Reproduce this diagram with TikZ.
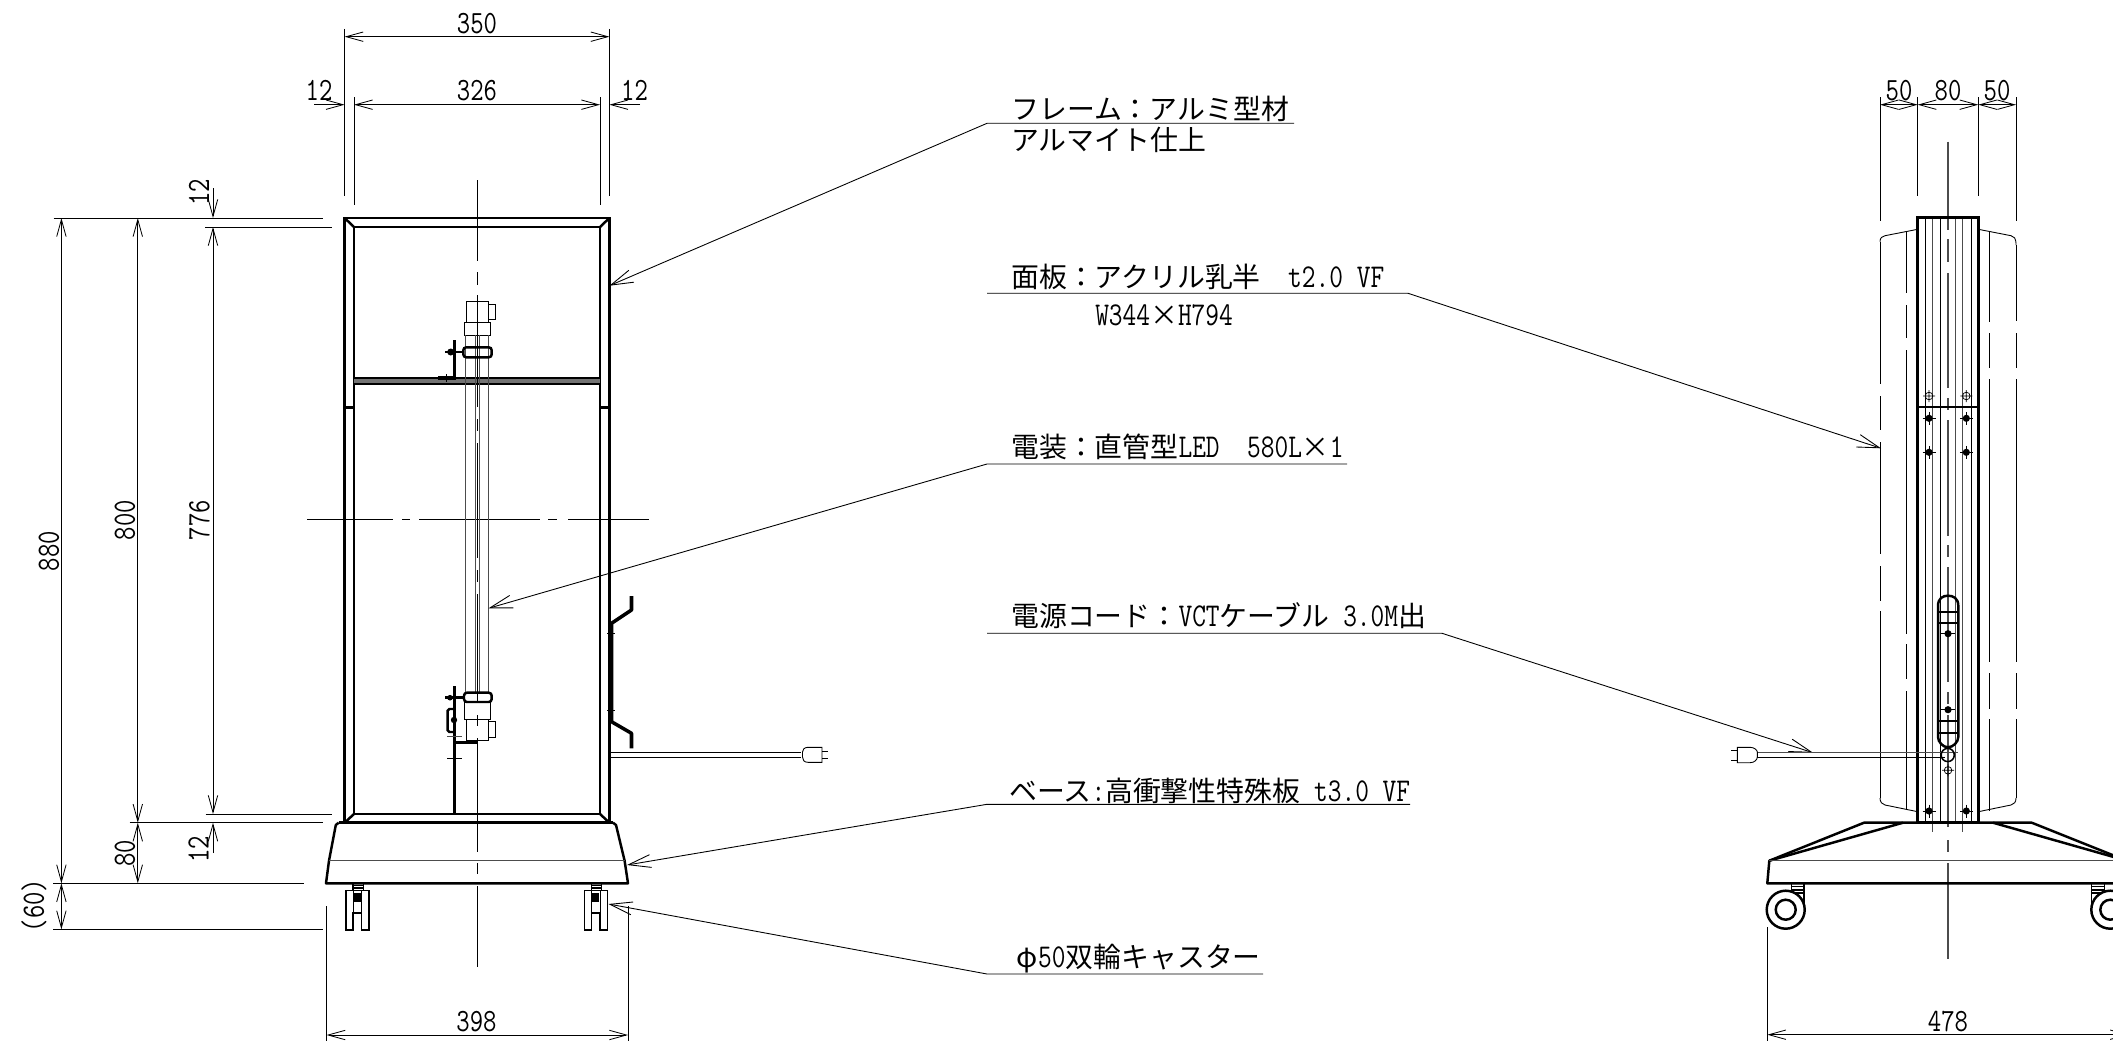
\documentclass[tikz,border=0pt]{standalone}
\usepackage{fontspec}
\usetikzlibrary{arrows.meta}
\newfontfamily\jpfont{Noto Sans CJK JP}
\newfontfamily\latfont[FakeStretch=0.8]{Latin Modern Mono}
\newcommand\hw[1]{{\latfont\fontsize{28.3pt}{28.3pt}\selectfont #1}}
\newcommand\zc{\char"FF1A\relax}
\tikzset{
  thin line/.style={line width=.75pt},
  hair line/.style={line width=.6pt,black!70},
  heavy/.style={line width=2.1pt},
  extra heavy/.style={line width=3pt},
  dimline/.style={line width=.7pt,>={Straight Barb[length=14.5pt,width=8pt]}},
  leader/.style={line width=.75pt,>={Straight Barb[length=19pt,width=11pt]}},
  dimtext/.style={inner sep=0pt,font=\latfont\fontsize{27.6pt}{27.6pt}\selectfont},
  note/.style={inner sep=0pt,anchor=base west,font=\jpfont\fontsize{23.7pt}{23.7pt}\selectfont},
}
\newcommand\boltopen[2]{\draw[line width=.6pt] (#1,#2) circle (3.8) (#1-6,#2) -- (#1+6,#2) (#1,#2-6) -- (#1,#2+6);}
\newcommand\boltfull[2]{\fill (#1,#2) circle (3.6); \draw[line width=.8pt] (#1-6.5,#2) -- (#1+6.5,#2) (#1,#2-6.5) -- (#1,#2+6.5);}
\newcommand\boltslot[2]{\fill (#1,#2) circle (3.6); \draw[line width=.8pt] (#1-7,#2) -- (#1+7,#2);}
\begin{document}
\begin{tikzpicture}[x=0.85pt,y=-0.85pt]
\useasboundingbox (0,0) rectangle (2113,1041);
\clip (0,0) rectangle (2113,1041);

% ===== LEFT VIEW : dimensions =====
\begin{scope}[dimline]
  \draw (344.6,29) -- (344.6,195.7) (609.4,29) -- (609.4,195.7);
  \draw (354,97) -- (354,204.7) (600,97) -- (600,204.7);
  \draw[<->] (344.6,36.7) -- (609.4,36.7);
  \draw[<->] (354,104.7) -- (600,104.7);
  \draw[->] (314,104.7) -- (344.6,104.7);
  \draw[->] (640,104.7) -- (609.4,104.7);
  \draw (53.6,218) -- (322.8,218) (205,227) -- (332,227);
  \draw (205.5,814) -- (331.8,814) (129.7,822.7) -- (323,822.7);
  \draw (53.4,883.3) -- (304,883.3) (53.4,929.3) -- (323,929.3);
  \draw[<->] (61.4,218) -- (61.4,883.3);
  \draw[<->] (61.4,883.3) -- (61.4,929.3);
  \draw[<->] (137.8,218) -- (137.8,822.7);
  \draw[<->] (137.8,822.7) -- (137.8,883.3);
  \draw[<->] (213,227) -- (213,814);
  \draw[->] (213,188) -- (213,218);
  \draw[->] (213,853) -- (213,822.7);
  \draw (326.6,906) -- (326.6,1041) (628,906) -- (628,1041);
  \draw[<->] (326.6,1035) -- (628,1035);
\end{scope}
\node[dimtext] (d350) at (477,23.5) {350};
\node[dimtext] (d326) at (477,91) {326};
\node[dimtext] (d12a) at (319,90) {12};
\node[dimtext] (d12b) at (634.5,90) {12};
\node[dimtext,rotate=90] (d12c) at (199,192) {12};
\node[dimtext,rotate=90] (d880) at (49,551) {880};
\node[dimtext,rotate=90] (d800) at (125,520) {800};
\node[dimtext,rotate=90] (d776) at (199.5,520) {776};
\node[dimtext,rotate=90] (d80) at (125,853) {80};
\node[dimtext,rotate=90] (d12d) at (198.5,849) {12};
\node[dimtext,rotate=90] (d60) at (34,905.5) {(60)};
\node[dimtext] (d398) at (476.5,1022) {398};

% ===== LEFT VIEW : frame =====
\draw[heavy] (344.6,218) rectangle (609.4,822.7);
\draw[heavy] (354,227) rectangle (600,814);
\draw[heavy] (344.6,218) -- (354,227) (609.4,218) -- (600,227) (344.6,822.7) -- (354,814) (609.4,822.7) -- (600,814);
\fill[black!55] (354,377.3) rectangle (600,384.3);
\draw[line width=1.7pt] (354,377.6) -- (600,377.6) (354,384) -- (600,384);
\draw[heavy] (344.6,407.3) -- (354,407.3) (600,407.3) -- (609.4,407.3);

% centre lines
\draw[thin line] (477.2,180) -- (477.2,261) (477.2,272) -- (477.2,285);
\draw[thin line] (477.2,295) -- (477.2,407) (477.2,419) -- (477.2,431) (477.2,443) -- (477.2,558) (477.2,570) -- (477.2,582) (477.2,594) -- (477.2,703) (477.2,715) -- (477.2,726) (477.2,738) -- (477.2,852) (477.2,863) -- (477.2,874) (477.2,886) -- (477.2,967);
\draw[thin line] (307,519.5) -- (393,519.5) (402,519.5) -- (410,519.5) (419,519.5) -- (540,519.5) (548,519.5) -- (557,519.5) (568,519.5) -- (649,519.5);

% lamp upper
\draw[thin line] (466.3,301) rectangle (488,322);
\draw[thin line] (488,304.3) rectangle (495.7,319.7);
\draw[thin line] (464.7,322) rectangle (490,335.3);
\draw[hair line] (465.7,335.3) -- (465.7,692.7) (488.3,335.3) -- (488.3,692.7);
\draw[hair line] (475.3,335.3) -- (475.3,692.7) (479.2,335.3) -- (479.2,692.7);
\draw[heavy,rounded corners=2.5pt] (463.3,347.3) rectangle (491.7,357.3);
\draw[extra heavy] (454.3,340) -- (454.3,378) -- (437.7,378);
\draw[heavy] (445,352) -- (463.3,352);
\fill (450.7,352) circle (3.5);
\draw[thin line] (446,374) -- (446,382);

% lamp lower
\draw[heavy,rounded corners=2.5pt] (464,692.7) rectangle (491.7,702);
\draw[thin line] (464.7,702) rectangle (490,719.3);
\draw[thin line] (466.7,719.3) rectangle (488,740);
\draw[thin line] (488,721.3) rectangle (495.7,737);
\draw[extra heavy] (454.7,686) -- (454.7,814);
\draw[heavy] (454.7,742.7) -- (478,742.7);
\draw[heavy] (445,697.7) -- (464,697.7);
\fill (450,697.7) circle (2.8);
\draw[heavy,rounded corners=1.5pt] (454,709) -- (447.7,709) -- (447.7,732) -- (454,732);
\fill (454,720) circle (3.2);
\draw[hair line] (447,736) -- (462,736);
\draw[thin line] (447,758.3) -- (462,758.3);

% hanger and cord
\draw[extra heavy,line join=round] (631.5,596) -- (631.5,610) -- (611.5,623.3) -- (611.5,721.7) -- (631.5,733.3) -- (631.5,748.3);
\draw[thin line] (607,633) -- (615,633) (607,710) -- (615,710);
\draw[thin line] (609.4,752.7) -- (801,752.7);
\draw[thin line] (609.4,757) -- (801,757);
\draw[thin line] (822,747.3) -- (808,747.3) .. controls (804,747.3) and (802.5,750) .. (802.5,752) -- (802.5,757) .. controls (802.5,760) and (804,762.3) .. (808,762.3) -- (822,762.3) -- cycle;
\draw[thin line] (822,751.7) -- (828,751.7) (822,758.3) -- (828,758.3);

% base
\draw[heavy,line join=round] (338.7,822.7) -- (335.8,825) -- (329,860.7) -- (326,883.3) -- (628,883.3) -- (624.6,860.7) -- (616,825) -- (613,822.7);
\draw[heavy] (338.7,822.7) -- (613,822.7);
\draw[hair line,line width=.9pt] (329,860.7) -- (624.6,860.7);

% casters front
\foreach \cx in {0,238.4}{
  \begin{scope}[shift={(\cx,0)}]
    \draw[thin line,line width=.95pt] (353,883.3) -- (353,890.7) (363.4,883.3) -- (363.4,890.7) (353,885.7) -- (363.4,885.7) (353,888) -- (363.4,888);
    \draw[line width=1.2pt] (346,890.7) -- (369,890.7) -- (369,930) -- (361.6,930) -- (361.6,913) -- (353,913) -- (353,930) -- (346,930) -- cycle;
    \draw[thin line] (353,890.7) -- (353,913) (361.6,890.7) -- (361.6,913);
    \fill (353.5,893.3) rectangle (361,901.7);
  \end{scope}
}

% ===== NOTES =====
\node[note] (n1) at (1011,119.5) {フレーム\zc アルミ型材};
\node[note] (n1b) at (1011,150) {アルマイト仕上};
\node[note] (n2) at (1011,287) {面板\zc アクリル乳半\hw{\ \ t2.0 VF}};
\node[note] (n2b) at (1095,325) {\hw{W344}×\hw{H794}};
\node[note] (n3) at (1011,457) {電装\zc 直管型\hw{LED\ \ 580L}×\hw{1}};
\node[note] (n4) at (1011,626) {電源コード\zc\hw{VCT}ケーブル\hw{\ 3.0M}出};
\node[note] (n5) at (1009,801) {ベース\hw{:}高衝撃性特殊板\hw{\ t3.0 VF}};
\node[note] (n6) at (1016,967) {\makebox[18.7pt][l]{φ}\hw{50}双輪キャスター};

\coordinate (l1a) at (987,123.3); \coordinate (l1b) at (1294,123.3); \coordinate (t1) at (609.4,285.7);
\coordinate (l2a) at (987,293.3); \coordinate (l2b) at (1408,293.3); \coordinate (t2) at (1881,448.3);
\coordinate (l3a) at (987,464); \coordinate (l3b) at (1347,464); \coordinate (t3) at (488.5,608.3);
\coordinate (l4a) at (987,633.3); \coordinate (l4b) at (1442,633.3); \coordinate (t4) at (1813,752.7);
\coordinate (l5a) at (987,804.3); \coordinate (l5b) at (1410,804.3); \coordinate (t5) at (627,865);
\coordinate (l6a) at (987,974); \coordinate (l6b) at (1263,974); \coordinate (t6) at (608.5,904);
\begin{scope}[leader]
  \draw[->] (l1b) -- (l1a) -- (t1);
  \draw[->] (l2a) -- (l2b) -- (t2);
  \draw[->] (l3b) -- (l3a) -- (t3);
  \draw[->] (l4a) -- (l4b) -- (t4);
  \draw[->] (l5b) -- (l5a) -- (t5);
  \draw[->] (l6b) -- (l6a) -- (t6);
\end{scope}

% ===== RIGHT VIEW : dimensions =====
\begin{scope}[dimline]
  \draw (1880,97) -- (1880,220.7) (2016,97) -- (2016,220.7);
  \draw (1917.7,97) -- (1917.7,195.7) (1978.3,97) -- (1978.3,195.7);
  \draw[<->] (1880,104.7) -- (1917.7,104.7);
  \draw[<->] (1917.7,104.7) -- (1978.3,104.7);
  \draw[<->] (1978.3,104.7) -- (2016,104.7);
  \draw (1767.3,927) -- (1767.3,1041);
  \draw[<->] (1767.3,1034.7) -- (2128.7,1034.7);
\end{scope}
\node[dimtext] (d50a) at (1899,91) {50};
\node[dimtext] (d80b) at (1948,91) {80};
\node[dimtext] (d50b) at (1997,91) {50};
\node[dimtext] (d478) at (1948,1022) {478};

% panel
\draw[thin line] (1880,241.7) .. controls (1880,238) and (1882,236.2) .. (1885,235.7) -- (1917.7,229.3);
\draw[thin line] (1978.3,229.3) -- (2011,235.7) .. controls (2014,236.2) and (2016,238) .. (2016,245);
\draw[thin line] (1880,798) .. controls (1880,802) and (1882,804.4) .. (1885,805) -- (1917.7,811.7);
\draw[thin line] (1978.3,811.7) -- (2011,805) .. controls (2014,804.4) and (2016,802) .. (2016,798);
\draw[thin line] (1880,242) -- (1880,384) (1880,396) -- (1880,430) (1880,442) -- (1880,554) (1880,566) -- (1880,601) (1880,611) -- (1880,798);
\draw[thin line] (1906.3,231.7) -- (1906.3,293) (1906.3,305) -- (1906.3,338) (1906.3,350) -- (1906.3,634) (1906.3,644) -- (1906.3,679) (1906.3,691) -- (1906.3,810);
\draw[thin line] (1989.7,231) -- (1989.7,321.7) (1989.7,333) -- (1989.7,368) (1989.7,379) -- (1989.7,661.7) (1989.7,673) -- (1989.7,709) (1989.7,719) -- (1989.7,811);
\draw[thin line] (2016,245) -- (2016,321) (2016,333) -- (2016,368) (2016,379) -- (2016,661.7) (2016,673) -- (2016,709) (2016,719) -- (2016,798);

% column
\draw[thin line] (1925.7,217.7) -- (1925.7,822.7) (1940.7,217.7) -- (1940.7,822.7) (1971,217.7) -- (1971,822.7);
\draw[hair line,line width=.9pt] (1932.7,217.7) -- (1932.7,831.7) (1955.7,217.7) -- (1955.7,822.7) (1962.7,217.7) -- (1962.7,831.7);
\draw[hair line,line width=.9pt] (1948,141.7) -- (1948,230) (1948,239) -- (1948,262) (1948,273) -- (1948,388) (1948,398) -- (1948,410) (1948,420) -- (1948,536) (1948,545) -- (1948,557) (1948,567) -- (1948,682) (1948,692) -- (1948,704) (1948,715) -- (1948,827) (1948,840) -- (1948,852) (1948,863) -- (1948,959);
\draw[heavy] (1917.7,217.7) rectangle (1978.3,822.7);
\draw[heavy] (1917.7,407) -- (1978.3,407);

% bolts
\boltopen{1929}{396} \boltopen{1966.3}{396} \boltopen{1948}{770.3}
\boltfull{1929}{418.3} \boltfull{1966.3}{418.3}
\boltfull{1929}{452.3} \boltfull{1966.3}{452.3}
\boltfull{1929}{811} \boltfull{1966.3}{811}
\boltslot{1948}{633.7} \boltslot{1948}{709.7}

% slotted bracket
\draw[heavy] (1938,606) .. controls (1938,598) and (1943,595.7) .. (1948,595.7) .. controls (1953,595.7) and (1958.3,598) .. (1958.3,606) -- (1958.3,737) .. controls (1958.3,742) and (1953,747.3) .. (1948,747.3) .. controls (1943,747.3) and (1938,742) .. (1938,737) -- cycle;
\draw[line width=1.4pt] (1938,611.7) -- (1958.3,611.7) (1938,623.3) -- (1958.3,623.3) (1938,720.7) -- (1958.3,720.7) (1938,732.7) -- (1958.3,732.7);

% cord right view
\draw[hair line,line width=.9pt] (1757.3,752.7) -- (1958,752.7);
\draw[thin line] (1757.3,757.3) -- (1945,757.3);
\draw[line width=1.3pt] (1947.7,755) circle (6.6);
\draw[thin line] (1737.3,747.3) -- (1750,747.3) .. controls (1754,747.3) and (1757.3,750) .. (1757.3,752) -- (1757.3,757) .. controls (1757.3,760) and (1754,762.7) .. (1750,762.7) -- (1737.3,762.7) -- cycle;
\draw[thin line] (1737.3,750) -- (1731,750) (1737.3,760) -- (1731,760);

% base right view
\draw[heavy,line join=round] (1767.3,883.3) -- (1769.3,860.7) -- (1864,822.7) -- (2031.7,822.7) -- (2126.7,860.7) -- (2128.7,883.3) -- cycle;
\draw[heavy] (1903,822.7) -- (1769.3,860.7) (1993,822.7) -- (2126.7,860.7);
\draw[hair line,line width=.9pt] (1769.3,860.7) -- (2126.7,860.7);

% wheels
\foreach \wx/\sa/\sb in {1785.7/1791.7/1804, 2110.3/2091.7/2104.3}{
  \draw[line width=1pt] (\sa,883.3) -- (\sa,903) (\sb,883.3) -- (\sb,909) (\sa,886.7) -- (\sb,886.7) (\sa,890) -- (\sb,890) (\sa,893) -- (\sb,893);
  \draw[heavy,fill=white] (\wx,909.7) circle (19);
  \draw[heavy] (\wx,909.7) circle (10);
}
\end{tikzpicture}
\end{document}
